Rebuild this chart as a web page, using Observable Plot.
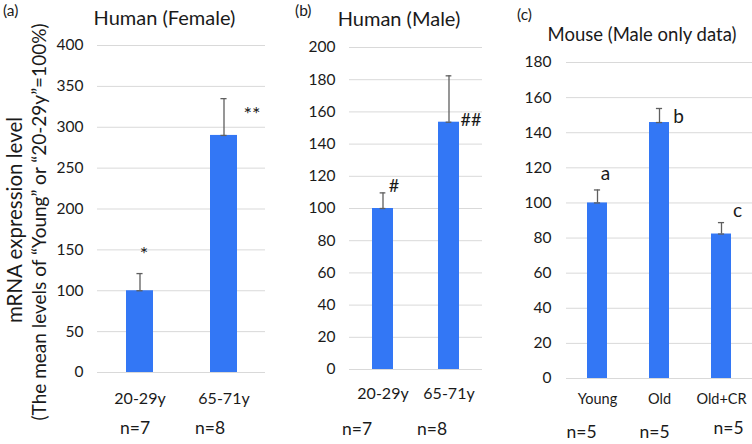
<!DOCTYPE html>
<html><head><meta charset="utf-8">
<script src="https://cdn.jsdelivr.net/npm/d3@7"></script>
<script src="https://cdn.jsdelivr.net/npm/@observablehq/plot@0.6"></script>
<style>
body{margin:0;background:#fff;font-family:Lato,sans-serif;}
#wrap{position:relative;width:752px;height:444px;overflow:hidden;background:#fff;}
#wrap .pan{position:absolute;top:0;}
#wrap svg.ov{position:absolute;left:0;top:0;pointer-events:none;}
</style></head><body><div id="wrap"></div>
<script>
// ---- data ----
const femaleGroups = ["20-29y", "65-71y"];
const femaleMeans = [100, 290];
const femaleErrors = [21, 45];
const femaleSig = ["*", "**"];
const femaleN = ["n=7", "n=8"];
const femaleTicks = [0, 50, 100, 150, 200, 250, 300, 350, 400];

const maleGroups = ["20-29y", "65-71y"];
const maleMeans = [100, 153.6];
const maleErrors = [9.7, 28.8];
const maleSig = ["#", "##"];
const maleN = ["n=7", "n=8"];
const maleTicks = [0, 20, 40, 60, 80, 100, 120, 140, 160, 180, 200];

const mouseGroups = ["Young", "Old", "Old+CR"];
const mouseMeans = [100, 145.8, 82.3];
const mouseErrors = [7.4, 8.0, 6.5];
const mouseSig = ["a", "b", "c"];
const mouseN = ["n=5", "n=5", "n=5"];
const mouseTicks = [0, 20, 40, 60, 80, 100, 120, 140, 160, 180];

const panelLetters = ["(a)", "(b)", "(c)"];
const panelTitles = ["Human (Female)", "Human (Male)", "Mouse (Male only data)"];
const yLabelLines = ["mRNA expression level", "(The mean levels of \u201cYoung\u201d or \u201c20-29y\u201d=100%)"];

// ---- styles ----
const BLUE = "#3377f5";
const GRID = "#d9d9d9";
const ERR = "#5f5f5f";
const TXT = "#1a1a1a";
const FONT = "Lato, sans-serif";

const wrap = document.getElementById("wrap");

function panel(cfg) {
  const data = cfg.groups.map((g, i) => ({g, v: cfg.means[i], hi: cfg.means[i] + cfg.errors[i], s: cfg.sig[i], n: cfg.n[i], i}));
  const plotW = cfg.width - cfg.mL - cfg.mR;
  const step = plotW / cfg.groups.length;
  const bw = step * (1 - 0.68);
  const capInset = (bw - 6) / 2;
  const marks = [
    Plot.gridY(cfg.ticks, {stroke: GRID, strokeOpacity: 1, strokeWidth: 1}),
    Plot.axisY(cfg.ticks, {tickSize: 0, tickPadding: cfg.tickPad, fontSize: cfg.yFont, fill: TXT, label: null}),
    Plot.axisX({tickSize: 0, tickPadding: cfg.xPad, fontSize: cfg.xFont, fill: TXT, label: null}),
    Plot.barY(data, {x: "g", y: "v", fill: BLUE}),
    Plot.ruleX(data, {x: "g", y1: "v", y2: "hi", stroke: ERR, strokeWidth: 1.3}),
    Plot.tickY(data, {x: "g", y: "hi", stroke: ERR, strokeWidth: 1.3, insetLeft: capInset, insetRight: capInset}),
    Plot.tickY(data, {x: "g", y: "v", stroke: ERR, strokeWidth: 1.3, insetLeft: capInset, insetRight: capInset})
  ];
  data.forEach((d, i) => {
    marks.push(Plot.text([d], {x: "g", y: "hi", text: "s", dx: cfg.sigDx[i], dy: cfg.sigDy[i], fontSize: cfg.sigFont, fill: TXT, lineAnchor: "middle"}));
    marks.push(Plot.text([d], {x: "g", text: "n", frameAnchor: "bottom", dx: cfg.nDx[i], dy: cfg.nDy[i], fontSize: cfg.nFont, fill: TXT, lineAnchor: "middle"}));
  });
  const p = Plot.plot({
    width: cfg.width, height: 444,
    marginLeft: cfg.mL, marginRight: cfg.mR, marginTop: cfg.mT, marginBottom: cfg.mB,
    style: {fontFamily: FONT, background: "transparent", overflow: "visible"},
    x: {domain: cfg.groups, paddingInner: 0.68, paddingOuter: 0.34, axis: null},
    y: {domain: cfg.domain, axis: null},
    marks
  });
  p.classList.add("pan");
  p.style.left = cfg.left + "px";
  wrap.appendChild(p);
}

panel({groups: femaleGroups, means: femaleMeans, errors: femaleErrors, sig: femaleSig, n: femaleN, ticks: femaleTicks,
  domain: [0, 400], left: 0, width: 280, mL: 97, mR: 15, mT: 45, mB: 72, tickPad: 14, xPad: 20, yFont: 15.5, xFont: 16,
  sigFont: 20, sigDx: [4, 28], sigDy: [-19, 16], nFont: 17.5, nDx: [-5, -14], nDy: [56, 56]});

panel({groups: maleGroups, means: maleMeans, errors: maleErrors, sig: maleSig, n: maleN, ticks: maleTicks,
  domain: [0, 200], left: 260, width: 230, mL: 89, mR: 8, mT: 47, mB: 75, tickPad: 14, xPad: 18, yFont: 15.5, xFont: 16,
  sigFont: 18, sigDx: [11, 22], sigDy: [-7, 44], nFont: 17.5, nDx: [-26, -17], nDy: [60, 60]});

panel({groups: mouseGroups, means: mouseMeans, errors: mouseErrors, sig: mouseSig, n: mouseN, ticks: mouseTicks,
  domain: [0, 180], left: 500, width: 252, mL: 66, mR: 0, mT: 62, mB: 66, tickPad: 15, xPad: 15, yFont: 15.5, xFont: 14.5,
  sigFont: 19, sigDx: [8, 19, 16], sigDy: [-16, 8, -12], nFont: 17.5, nDx: [-16, -5, 7], nDy: [54, 54, 50]});

// ---- overlay text: panel letters, titles, y label ----
const ov = d3.select(wrap).append("svg").attr("class", "ov").attr("width", 752).attr("height", 444)
  .attr("font-family", FONT).attr("fill", TXT);
const letterPos = [[3, 16], [295, 16], [517, 20]];
panelLetters.forEach((t, i) => ov.append("text").attr("x", letterPos[i][0]).attr("y", letterPos[i][1]).attr("font-size", 15.5).text(t));
const titlePos = [[164.5, 25], [399, 26], [642, 41]];
const titleSize = [20, 20, 18.5];
panelTitles.forEach((t, i) => ov.append("text").attr("x", titlePos[i][0]).attr("y", titlePos[i][1]).attr("text-anchor", "middle").attr("font-size", titleSize[i]).text(t));
const yLabPos = [[22, 220], [46, 222]];
const yLabSize = [20.5, 19];
yLabelLines.forEach((t, i) => ov.append("text").attr("transform", `translate(${yLabPos[i][0]},${yLabPos[i][1]}) rotate(-90)`)
  .attr("text-anchor", "middle").attr("font-size", yLabSize[i]).text(t));
</script></body></html>
